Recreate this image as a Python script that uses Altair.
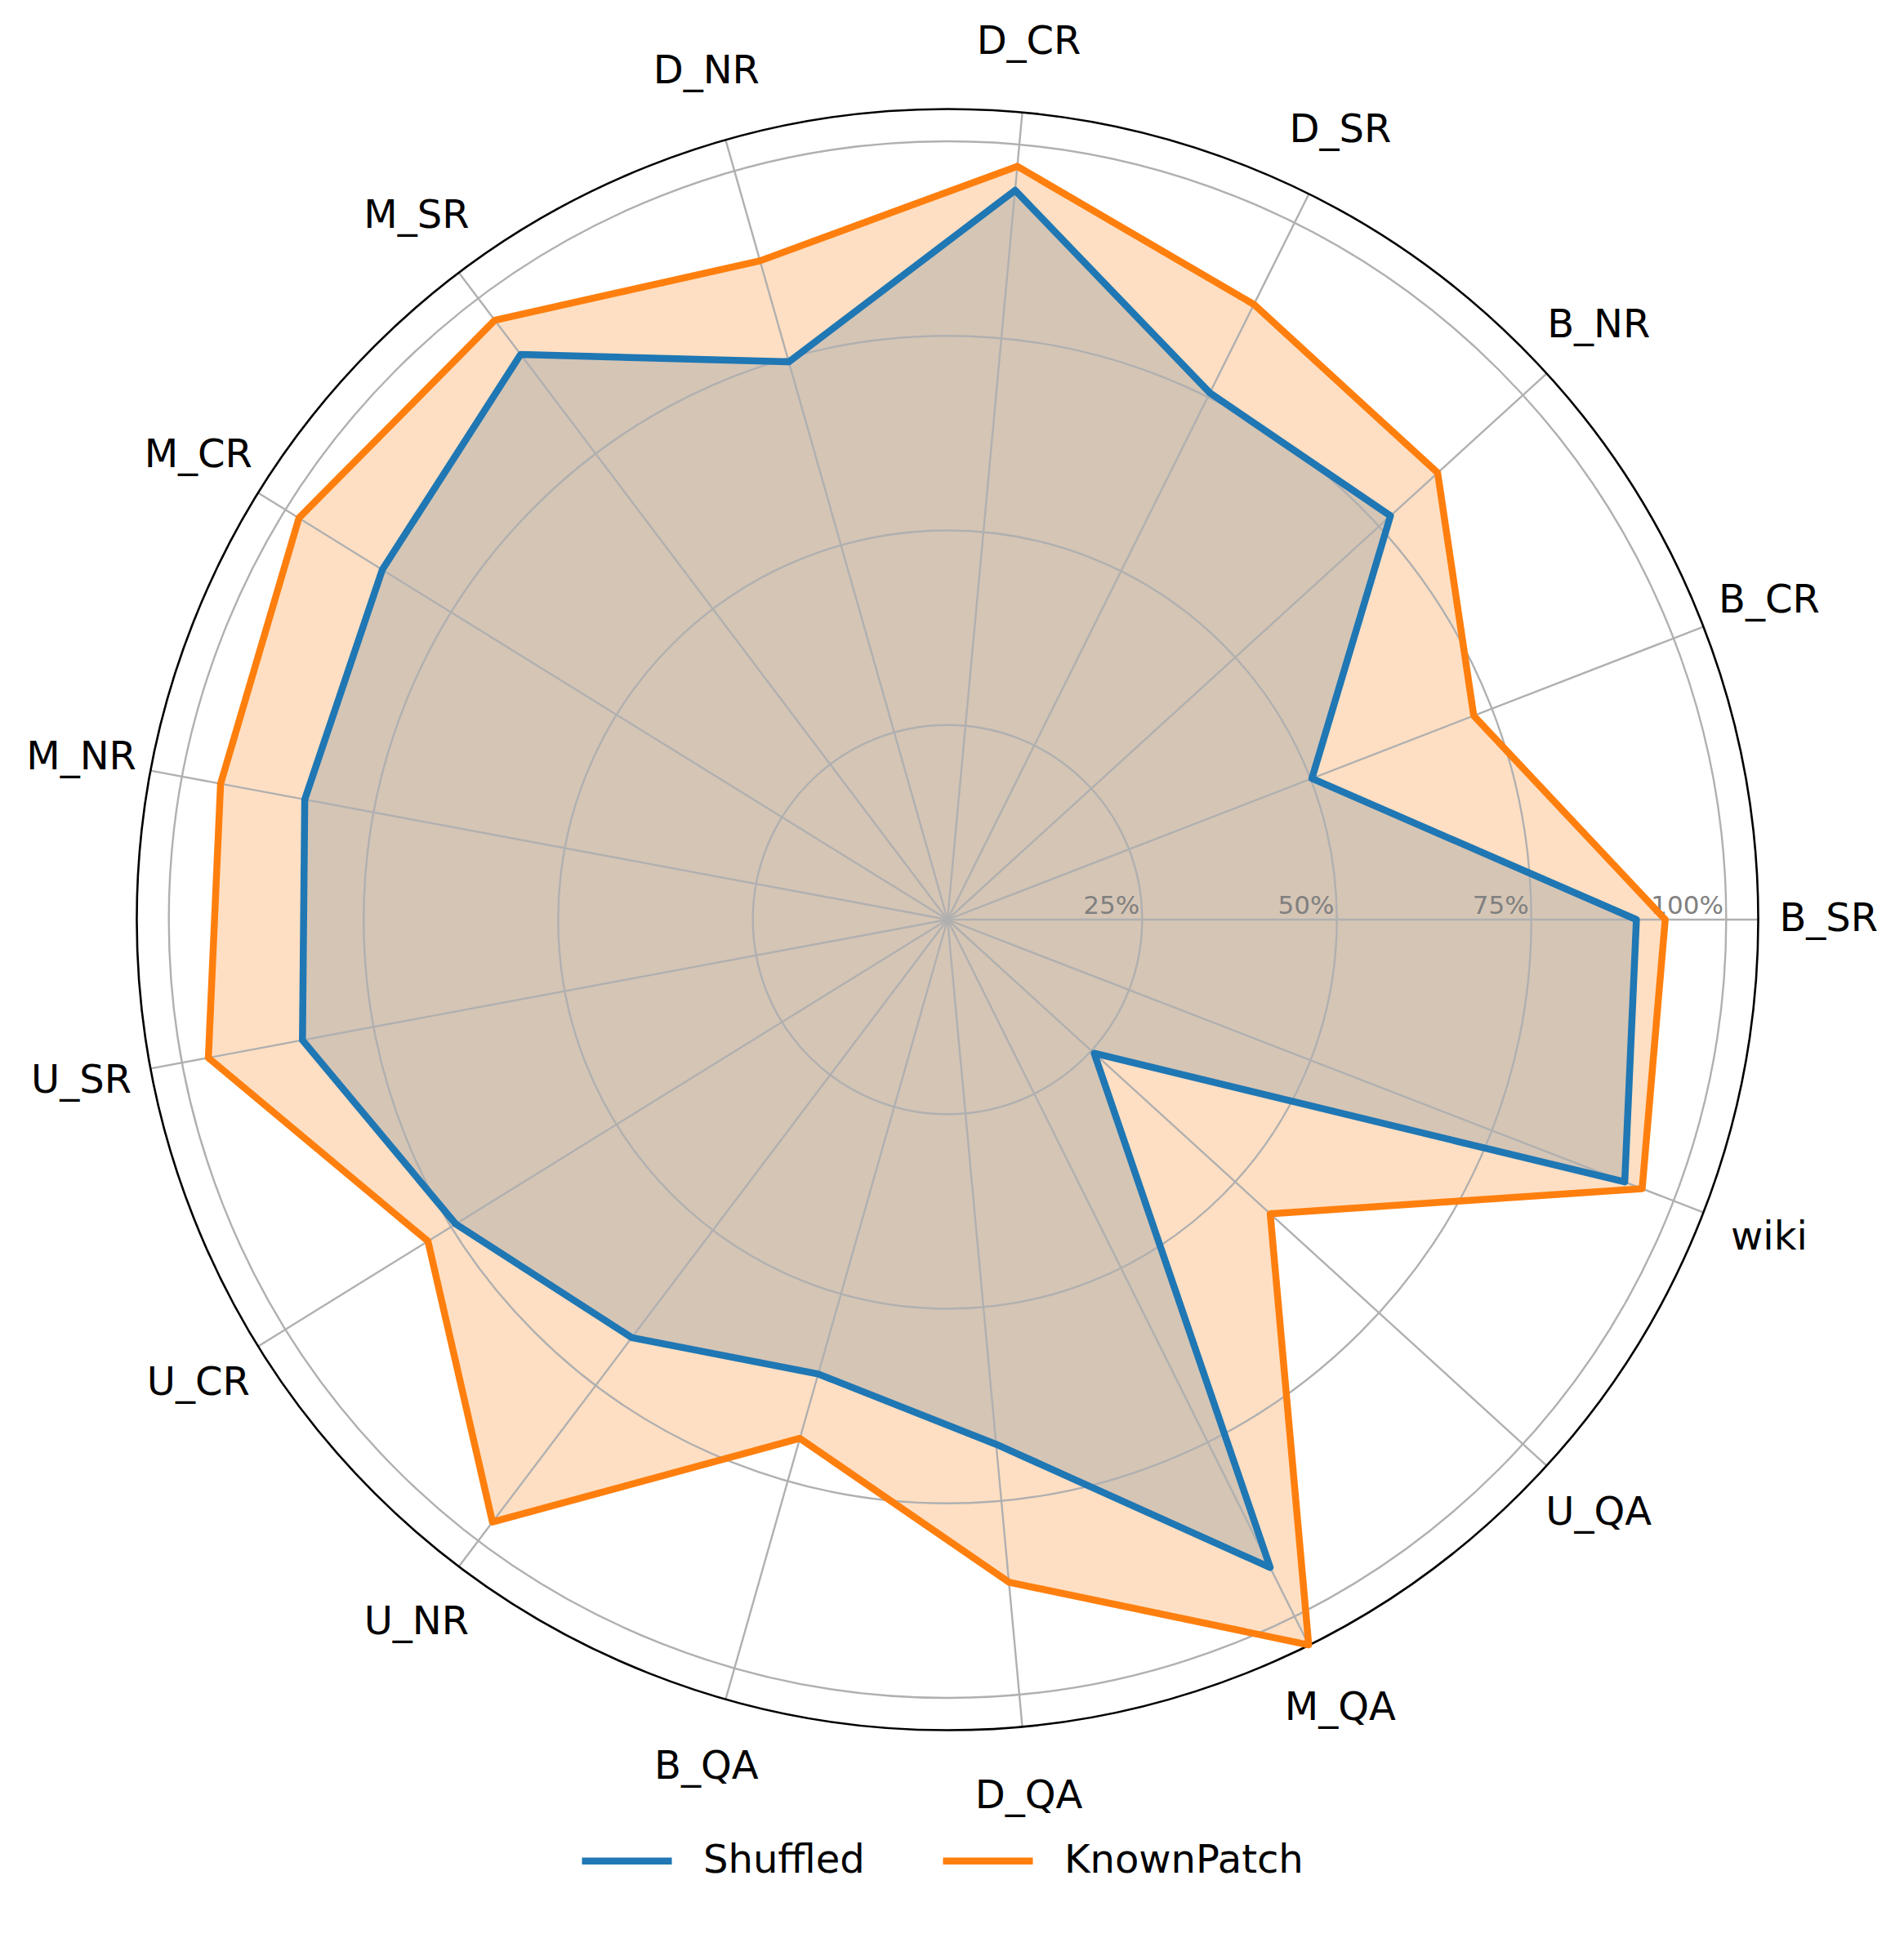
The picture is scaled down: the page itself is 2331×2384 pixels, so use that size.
import math
import altair as alt
import pandas as pd

# ---------------- data ----------------
categories = ["B_SR", "B_CR", "B_NR", "D_SR", "D_CR", "D_NR", "M_SR", "M_CR", "M_NR",
              "U_SR", "U_CR", "U_NR", "B_QA", "D_QA", "M_QA", "U_QA", "wiki"]
shuffled = [0.885, 0.502, 0.770, 0.756, 0.941, 0.745, 0.910, 0.854, 0.840,
            0.843, 0.743, 0.673, 0.607, 0.677, 0.930, 0.255, 0.933]
known_patch = [0.922, 0.725, 0.852, 0.883, 0.972, 0.880, 0.965, 0.980, 0.950,
               0.966, 0.785, 0.970, 0.693, 0.855, 1.041, 0.561, 0.957]
series_names = ["Shuffled", "KnownPatch"]
series_colors = ["#1f77b4", "#ff7f0e"]
ring_levels = [0.25, 0.50, 0.75, 1.00]
ring_labels = ["25%", "50%", "75%", "100%"]
R_MAX = 1.0415

# ---------------- layout (style) ----------------
W, H = 2315, 2368          # plot area (page minus 8px margins)
CX, CY = 1152, 1118        # polar centre inside the view, px
PX = 953                   # pixels per unit radius
LABEL_R = 1.132
N = len(categories)
FONT = "DejaVu Sans"

xs = alt.Scale(domain=[-CX / PX, (W - CX) / PX], nice=False, zero=False)
ys = alt.Scale(domain=[-(H - CY) / PX, CY / PX], nice=False, zero=False)
color_scale = alt.Scale(domain=series_names, range=series_colors)

rows = []
for name, vals in zip(series_names, [shuffled, known_patch]):
    for i, (c, v) in enumerate(zip(categories, vals)):
        rows.append({"series": name, "idx": i, "cat": c, "value": v})
df = pd.DataFrame(rows)
cat_df = pd.DataFrame({"idx": list(range(N)), "cat": categories})
ring_df = pd.DataFrame({"r": ring_levels, "label": ring_labels})
outer_df = pd.DataFrame({"r": [R_MAX]})

ANG = f"datum.idx * 2 * PI / {N}"


def polar(chart):
    return (chart.transform_calculate(ang=ANG)
                 .transform_calculate(px="datum.value * cos(datum.ang)")
                 .transform_calculate(py="datum.value * sin(datum.ang)"))


X = alt.X("px:Q", scale=xs, axis=None)
Y = alt.Y("py:Q", scale=ys, axis=None)

fills = []
lines = []
legend = alt.Legend(orient="none", legendX=700, legendY=2211, direction="horizontal",
                    title=None, symbolType="stroke", symbolStrokeWidth=8.5,
                    symbolSize=12100, labelFontSize=48, labelFont=FONT,
                    labelColor="black", labelOffset=34, columnPadding=78, padding=0,
                    labelLimit=0)
for name, col in zip(series_names, series_colors):
    base = polar(alt.Chart(df).transform_filter(alt.datum.series == name))
    fills.append(base.mark_line(interpolate="linear-closed", fill=col, fillOpacity=0.25,
                                strokeOpacity=0).encode(x=X, y=Y, order="idx:Q"))
    lines.append(base.mark_line(interpolate="linear-closed", strokeWidth=8.5,
                                strokeJoin="round").encode(
        x=X, y=Y, order="idx:Q",
        color=alt.Color("series:N", scale=color_scale, legend=legend)))

radius_scale = alt.Scale(type="linear", domain=[0, R_MAX], range=[0, R_MAX * PX], zero=True)

rings = (alt.Chart(ring_df)
         .transform_calculate(cx="0", cy="0")
         .mark_arc(theta=0, theta2=2 * math.pi, fillOpacity=0, stroke="#b0b0b0", strokeWidth=2.4)
         .encode(x=alt.X("cx:Q", scale=xs, axis=None), y=alt.Y("cy:Q", scale=ys, axis=None),
                 radius=alt.Radius("r:Q", scale=radius_scale, stack=False)))

outer = (alt.Chart(outer_df)
         .transform_calculate(cx="0", cy="0")
         .mark_arc(theta=0, theta2=2 * math.pi, fillOpacity=0, stroke="black", strokeWidth=2.6)
         .encode(x=alt.X("cx:Q", scale=xs, axis=None), y=alt.Y("cy:Q", scale=ys, axis=None),
                 radius=alt.Radius("r:Q", scale=radius_scale, stack=False)))

spokes = (alt.Chart(cat_df)
          .transform_calculate(ang=ANG)
          .transform_calculate(x0="0", y0="0",
                               x1=f"{R_MAX} * cos(datum.ang)", y1=f"{R_MAX} * sin(datum.ang)")
          .mark_rule(color="#b0b0b0", strokeWidth=2.4)
          .encode(x=alt.X("x0:Q", scale=xs, axis=None), y=alt.Y("y0:Q", scale=ys, axis=None),
                  x2="x1:Q", y2="y1:Q"))

rlabels = (alt.Chart(ring_df)
           .transform_calculate(y0="0")
           .mark_text(align="right", baseline="alphabetic", dx=-3, dy=-7, fontSize=31,
                      font=FONT, color="#808080")
           .encode(x=alt.X("r:Q", scale=xs, axis=None), y=alt.Y("y0:Q", scale=ys, axis=None),
                   text="label:N"))

clabels = (alt.Chart(cat_df)
           .transform_calculate(ang=ANG)
           .transform_calculate(lx=f"{LABEL_R} * cos(datum.ang)", ly=f"{LABEL_R} * sin(datum.ang)")
           .mark_text(align="center", baseline="middle", fontSize=48, font=FONT, color="black")
           .encode(x=alt.X("lx:Q", scale=xs, axis=None), y=alt.Y("ly:Q", scale=ys, axis=None),
                   text="cat:N"))

chart = (alt.layer(*fills, spokes, rings, outer, rlabels, *lines, clabels)
         .properties(width=W, height=H, padding=0,
                     autosize=alt.AutoSizeParams(type="none"))
         .configure(background="white")
         .configure_view(strokeWidth=0, stroke=None))

chart.save("out.html", embed_options={"renderer": "svg", "actions": False})
